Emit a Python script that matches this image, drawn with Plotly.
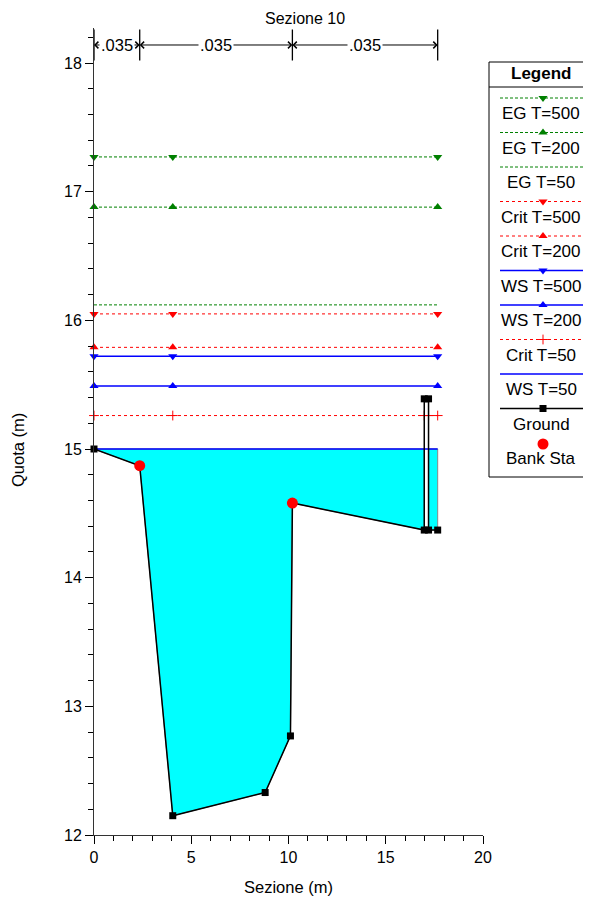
import plotly.graph_objects as go

# page body has an 8px margin: figure occupies reference pixels 8..591 x 8..901
OFF = 8
W, H = 591 - OFF, 901 - OFF
FONT = "Liberation Sans, Arial, sans-serif"

# ---------------- data ----------------
ground_x = [0.0, 2.35, 4.05, 8.80, 10.10, 10.20, 16.98, 16.98, 17.20, 17.20, 17.67]
ground_y = [15.00, 14.87, 12.15, 12.33, 12.77, 14.58, 14.37, 15.39, 15.39, 14.37, 14.37]
bank_x = [2.35, 10.20]
bank_y = [14.87, 14.58]

marker_x = [0.0, 4.05, 17.67]
crit50_marker_x = [0.0, 4.05, 16.98, 17.20, 17.67]
line_x = [0.0, 17.67]

eg500 = 17.27
eg200 = 16.88
eg50 = 16.12
crit500 = 16.05
crit200 = 15.79
ws500 = 15.72
ws200 = 15.49
crit50 = 15.26
ws50 = 15.00

n_values = [".035", ".035", ".035"]
n_breaks = [0.0, 2.35, 10.20, 17.67]

x_ticks = [0, 5, 10, 15, 20]
y_ticks = [12, 13, 14, 15, 16, 17, 18]

GREEN = "#008000"
RED = "#ff0000"
BLUE = "#0000ff"


def PX(px):
    return (px - OFF) / W


def PY(py):
    return 1 - (py - OFF) / H


# ---------------- geometry (reference pixel layout) ----------------
px_x0, px_x1 = 94, 483
px_y12, px_y18 = 835, 63
ppu_y = (px_y12 - px_y18) / 6.0
y_top = 18.27
px_ytop = px_y12 - (y_top - 12) * ppu_y

fig = go.Figure()

# water fill (derived from ground and WS T=50)
left_idx = 6
fill1_x = ground_x[:left_idx + 1] + [ground_x[left_idx], ground_x[0]]
fill1_y = ground_y[:left_idx + 1] + [ws50, ws50]
fill2_x = [ground_x[9], ground_x[10], ground_x[10], ground_x[9]]
fill2_y = [ground_y[9], ground_y[10], ws50, ws50]
for fx, fy in [(fill1_x, fill1_y), (fill2_x, fill2_y)]:
    fig.add_trace(go.Scatter(x=fx, y=fy, fill="toself", fillcolor="#00ffff",
                             mode="lines", line=dict(color="#888888", width=1),
                             hoverinfo="skip", showlegend=False))


def marker_style(symbol, color):
    if symbol == "cross-thin":
        return dict(symbol=symbol, size=7, color=color, line=dict(color=color, width=1))
    if symbol == "square":
        return dict(symbol=symbol, size=7, color=color)
    return dict(symbol=symbol, size=8, color=color)


def hline(level, color, dash, width, symbol, mx):
    fig.add_trace(go.Scatter(x=line_x, y=[level, level], mode="lines",
                             line=dict(color=color, dash=dash, width=width),
                             showlegend=False, hoverinfo="skip"))
    if symbol:
        fig.add_trace(go.Scatter(x=mx, y=[level] * len(mx), mode="markers",
                                 marker=marker_style(symbol, color), cliponaxis=False,
                                 showlegend=False, hoverinfo="skip"))


EG_DASH = "3px,2px"
hline(eg500, GREEN, EG_DASH, 1, "triangle-down", marker_x)
hline(eg200, GREEN, EG_DASH, 1, "triangle-up", marker_x)
hline(eg50, GREEN, EG_DASH, 1, None, marker_x)
hline(crit500, RED, "dot", 1, "triangle-down", marker_x)
hline(crit200, RED, "dot", 1, "triangle-up", marker_x)
hline(ws500, BLUE, "solid", 1.5, "triangle-down", marker_x)
hline(ws200, BLUE, "solid", 1.5, "triangle-up", marker_x)
hline(crit50, RED, "dot", 1, "cross-thin", crit50_marker_x)
hline(ws50, BLUE, "solid", 1.5, None, marker_x)

# ground
fig.add_trace(go.Scatter(x=ground_x, y=ground_y, mode="lines+markers",
                         line=dict(color="black", width=1.5), cliponaxis=False,
                         marker=dict(symbol="square", size=7, color="black"),
                         showlegend=False, hoverinfo="skip"))
# bank stations
fig.add_trace(go.Scatter(x=bank_x, y=bank_y, mode="markers", cliponaxis=False,
                         marker=dict(symbol="circle", size=11, color=RED),
                         showlegend=False, hoverinfo="skip"))

# ---------------- Manning's n bar at top ----------------
arrow_y = 18.14
annotations = []
shapes = []
for b in n_breaks:
    shapes.append(dict(type="line", xref="x", yref="y", x0=b, x1=b, y0=18.02, y1=18.26,
                       line=dict(color="black", width=1.3)))
for i, nv in enumerate(n_values):
    a, b = n_breaks[i], n_breaks[i + 1]
    m = (a + b) / 2
    for tgt in (a, b):
        annotations.append(dict(x=tgt, y=arrow_y, ax=m, ay=arrow_y, xref="x", yref="y",
                                axref="x", ayref="y", text="", showarrow=True,
                                arrowhead=4, arrowsize=1.3, arrowwidth=1, arrowcolor="black"))
for i, nv in enumerate(n_values):
    a, b = n_breaks[i], n_breaks[i + 1]
    m = (a + b) / 2
    annotations.append(dict(x=m, y=arrow_y, xref="x", yref="y", text=nv, showarrow=False,
                            xanchor="center", yanchor="middle",
                            bgcolor="white", borderpad=1,
                            font=dict(family=FONT, size=16.5, color="black")))


def text_at(px, py, txt, angle=0, size=16.5):
    annotations.append(dict(x=PX(px), y=PY(py), xref="paper", yref="paper", text=txt,
                            xanchor="center", yanchor="middle", textangle=angle,
                            showarrow=False, font=dict(family=FONT, size=size, color="black")))


text_at(305, 18, "Sezione 10", size=16)
text_at(288, 887, "Sezione (m)")
text_at(18, 450, "Quota (m)", -90)

# ---------------- custom legend ----------------
leg_left, leg_top, leg_bottom = 489, 62, 477
shapes.append(dict(type="rect", xref="paper", yref="paper", x0=PX(leg_left), x1=1.02,
                   y0=PY(leg_bottom), y1=PY(leg_top), line=dict(color="black", width=1),
                   fillcolor="rgba(0,0,0,0)"))
shapes.append(dict(type="line", xref="paper", yref="paper", x0=PX(leg_left), x1=1.02,
                   y0=PY(87), y1=PY(87), line=dict(color="black", width=1)))
text_at(541, 74, "<b>Legend</b>", size=17)

legend_items = [
    ("EG T=500", GREEN, EG_DASH, 1, "triangle-down"),
    ("EG T=200", GREEN, EG_DASH, 1, "triangle-up"),
    ("EG T=50", GREEN, EG_DASH, 1, None),
    ("Crit T=500", RED, "dot", 1, "triangle-down"),
    ("Crit T=200", RED, "dot", 1, "triangle-up"),
    ("WS T=500", BLUE, "solid", 1.5, "triangle-down"),
    ("WS T=200", BLUE, "solid", 1.5, "triangle-up"),
    ("Crit T=50", RED, "dot", 1, "cross-thin"),
    ("WS T=50", BLUE, "solid", 1.5, None),
    ("Ground", "black", "solid", 1.5, "square"),
]
row0, step = 98, 34.5
for k, (name, col, dash, wd, sym) in enumerate(legend_items):
    ly = row0 + k * step
    fig.add_trace(go.Scatter(x=[500, 585], y=[ly, ly], xaxis="x2", yaxis="y2", mode="lines",
                             line=dict(color=col, dash=dash, width=wd),
                             showlegend=False, hoverinfo="skip"))
    if sym:
        fig.add_trace(go.Scatter(x=[543], y=[ly], xaxis="x2", yaxis="y2", mode="markers",
                                 marker=marker_style(sym, col),
                                 showlegend=False, hoverinfo="skip"))
    text_at(541, ly + 15.5, name, size=17)
ly = row0 + 10 * step
fig.add_trace(go.Scatter(x=[543], y=[ly + 1], xaxis="x2", yaxis="y2", mode="markers",
                         marker=dict(symbol="circle", size=11, color=RED),
                         showlegend=False, hoverinfo="skip"))
text_at(541, ly + 15, "Bank Sta", size=17)

axis_common = dict(showgrid=False, zeroline=False, showline=True, linecolor="#333333",
                   linewidth=1, ticks="outside", ticklen=8, tickwidth=1, tickcolor="black",
                   tickfont=dict(family=FONT, size=16, color="black"), automargin=False)

# legend sample axes: confined to the legend box area, in reference pixel units
lx0, lx1, ly0, ly1 = 488, 591, 60, 480

fig.update_layout(
    width=W, height=H,
    margin=dict(l=0, r=0, t=0, b=0, pad=0),
    paper_bgcolor="white", plot_bgcolor="rgba(0,0,0,0)",
    showlegend=False,
    xaxis=dict(range=[0, 20], domain=[PX(px_x0), PX(px_x1)], tickvals=x_ticks,
               minor=dict(dtick=1, ticks="outside", ticklen=5, tickcolor="black"),
               anchor="y", **axis_common),
    yaxis=dict(range=[12, y_top], domain=[PY(px_y12), PY(px_ytop)], tickvals=y_ticks,
               minor=dict(dtick=0.2, ticks="outside", ticklen=5, tickcolor="black"),
               anchor="x", **axis_common),
    xaxis2=dict(domain=[PX(lx0), PX(lx1)], range=[lx0, lx1], visible=False, anchor="y2",
                fixedrange=True),
    yaxis2=dict(domain=[PY(ly1), PY(ly0)], range=[ly1, ly0], visible=False, anchor="x2",
                fixedrange=True),
    shapes=shapes,
    annotations=annotations,
    font=dict(family=FONT, size=16, color="black"),
)

fig.write_html("out.html")
